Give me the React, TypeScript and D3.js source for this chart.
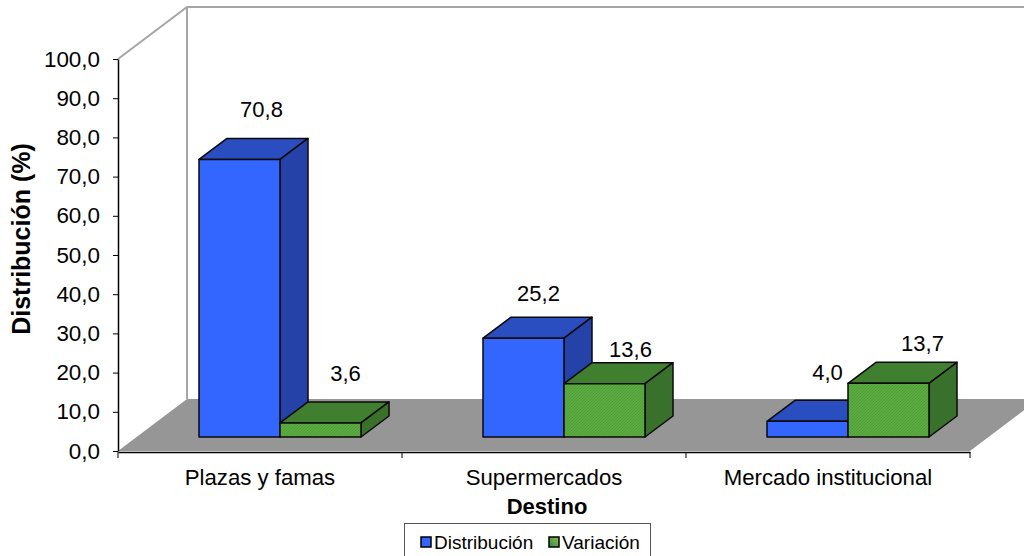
import React, { useEffect, useRef } from 'react';
import * as d3 from 'd3';

const categories = ['Plazas y famas', 'Supermercados', 'Mercado institucional'];
const seriesNames = ['Distribución', 'Variación'];
const distribucion = [70.8, 25.2, 4.0];
const variacion = [3.6, 13.6, 13.7];
const yTicks = [0, 10, 20, 30, 40, 50, 60, 70, 80, 90, 100];

// data labels were dragged by hand in the original, so they carry their own nudges
const labelNudge = [
  [[22, -21], [25, -21]],
  [[15, -16], [26, -6]],
  [[20, -20], [34, -11]]
];

const colors = {
  Distribución: { front: '#3366ff', top: '#2a4dbf', side: '#2542a8' },
  Variación: { front: 'url(#greenHatch)', top: '#3f7f2f', side: '#39702b' }
};

const width = 1024;
const height = 556;
const margin = { top: 59, right: 54, bottom: 105, left: 118 };
const depth = { x: 69, y: 52 };
const barDepth = { x: 28, y: 21 };
const font = '"Liberation Sans", Arial, sans-serif';

const fmt = (v: number) => v.toFixed(1).replace('.', ',');

const App = () => {
  const svgRef = useRef(null);

  useEffect(() => {
    const svg = d3.select(svgRef.current);
    svg.selectAll('*').remove();

    const x = d3.scaleBand()
      .domain(categories)
      .range([margin.left, width - margin.right]);
    const y = d3.scaleLinear()
      .domain([0, 100])
      .range([height - margin.bottom, margin.top]);
    const inner = d3.scaleBand()
      .domain(seriesNames)
      .range([81, 243]);

    const y0 = y(0);
    const left = x.range()[0];
    const right = x.range()[1];
    const barBase = y0 - 14;

    const pat = svg.append('defs').append('pattern')
      .attr('id', 'greenHatch')
      .attr('width', 3)
      .attr('height', 3)
      .attr('patternUnits', 'userSpaceOnUse');
    pat.append('rect').attr('width', 3).attr('height', 3).attr('fill', '#5cab42');
    pat.append('path').attr('d', 'M0,3L3,0').attr('stroke', '#4c9a35').attr('stroke-width', 0.8);

    const grad = svg.select('defs').append('linearGradient')
      .attr('id', 'legendGreen')
      .attr('x1', 0).attr('y1', 1).attr('x2', 1).attr('y2', 0);
    grad.append('stop').attr('offset', '0%').attr('stop-color', '#2f8a5a');
    grad.append('stop').attr('offset', '100%').attr('stop-color', '#8fbf3f');

    // floor
    svg.append('path')
      .attr('d', `M${left},${y0}L${left + depth.x},${y0 - depth.y}L${right + depth.x},${y0 - depth.y}L${right},${y0}Z`)
      .attr('fill', '#969696');

    // back walls
    svg.append('path')
      .attr('d', `M${left},${y(100)}L${left + depth.x},${y(100) - depth.y}L${right + depth.x},${y(100) - depth.y}`)
      .attr('fill', 'none')
      .attr('stroke', '#a6a6a6')
      .attr('stroke-width', 2);
    svg.append('line')
      .attr('x1', left + depth.x)
      .attr('x2', left + depth.x)
      .attr('y1', y(100) - depth.y)
      .attr('y2', y0 - depth.y)
      .attr('stroke', '#a6a6a6')
      .attr('stroke-width', 2);

    // axes
    const yAxis: any = d3.axisLeft(y)
      .tickValues(yTicks)
      .tickFormat((d: any) => fmt(d))
      .tickSize(5)
      .tickSizeOuter(0);
    svg.append('g')
      .attr('transform', `translate(${left},0)`)
      .call(yAxis)
      .call(g => g.select('.domain').attr('stroke-width', 1.5))
      .call(g => g.selectAll('.tick text')
        .attr('x', -18)
        .style('font', `22.4px ${font}`)
        .attr('fill', '#000'));

    const xAxis: any = d3.axisBottom(x).tickSize(0).tickPadding(17);
    svg.append('g')
      .attr('transform', `translate(0,${y0 + 1})`)
      .call(xAxis)
      .call(g => g.select('.domain').attr('stroke-width', 1.5))
      .call(g => g.selectAll('.tick text')
        .style('font', `22.2px ${font}`)
        .attr('fill', '#000'));
    svg.append('g')
      .selectAll('line')
      .data([...categories.map(c => x(c) as number), right])
      .join('line')
      .attr('x1', d => d)
      .attr('x2', d => d)
      .attr('y1', y0 + 1)
      .attr('y2', y0 + 7)
      .attr('stroke', '#000');

    // bars
    const rows = categories.flatMap((c, i) => [
      { c, i, j: 0, name: seriesNames[0], value: distribucion[i] },
      { c, i, j: 1, name: seriesNames[1], value: variacion[i] }
    ]);
    const bars = svg.append('g')
      .selectAll('g')
      .data(rows)
      .join('g')
      .attr('stroke', '#0a0a0a')
      .attr('stroke-width', 1.5)
      .attr('stroke-linejoin', 'round');

    const h = (d: any) => y0 - y(d.value);
    const bx = (d: any) => (x(d.c) as number) + (inner(d.name) as number);
    const bw = inner.bandwidth();

    bars.append('path')
      .attr('fill', (d: any) => colors[d.name].top)
      .attr('d', (d: any) => {
        const t = barBase - h(d);
        return `M${bx(d)},${t}l${barDepth.x},${-barDepth.y}h${bw}l${-barDepth.x},${barDepth.y}Z`;
      });
    bars.append('path')
      .attr('fill', (d: any) => colors[d.name].side)
      .attr('d', (d: any) => {
        const t = barBase - h(d);
        return `M${bx(d) + bw},${t}l${barDepth.x},${-barDepth.y}V${barBase - barDepth.y}l${-barDepth.x},${barDepth.y}Z`;
      });
    bars.append('rect')
      .attr('x', bx)
      .attr('y', (d: any) => barBase - h(d))
      .attr('width', bw)
      .attr('height', h)
      .attr('fill', (d: any) => colors[d.name].front);

    // value labels
    svg.append('g')
      .selectAll('text')
      .data(rows)
      .join('text')
      .attr('x', (d: any) => bx(d) + bw / 2 + labelNudge[d.i][d.j][0])
      .attr('y', (d: any) => barBase - h(d) - barDepth.y + labelNudge[d.i][d.j][1])
      .attr('text-anchor', 'middle')
      .style('font', `22px ${font}`)
      .text((d: any) => fmt(d.value));

    // axis titles
    svg.append('text')
      .attr('x', (left + right) / 2 + 3)
      .attr('y', 514)
      .attr('text-anchor', 'middle')
      .style('font', `bold 22px ${font}`)
      .text('Destino');
    svg.append('text')
      .attr('transform', 'translate(30,239) rotate(-90)')
      .attr('text-anchor', 'middle')
      .style('font', `bold 25px ${font}`)
      .text('Distribución (%)');

    // legend
    const legend = svg.append('g');
    legend.append('rect')
      .attr('x', 404.5)
      .attr('y', 523.5)
      .attr('width', 246)
      .attr('height', 40)
      .attr('fill', '#fff')
      .attr('stroke', '#555');
    const lx = [421, 549];
    seriesNames.forEach((name, i) => {
      legend.append('rect')
        .attr('x', lx[i])
        .attr('y', 537)
        .attr('width', 10)
        .attr('height', 10)
        .attr('fill', i === 0 ? '#3366ff' : 'url(#legendGreen)')
        .attr('stroke', '#000')
        .attr('stroke-width', 1.5);
      legend.append('text')
        .attr('x', lx[i] + 13)
        .attr('y', 549)
        .style('font', `19px ${font}`)
        .text(name);
    });
  }, []);

  return (
    <svg
      ref={svgRef}
      width={width}
      height={height}
      style={{ position: 'absolute', left: 0, top: 0, display: 'block', background: '#fff' }}
    />
  );
};

export default App;
